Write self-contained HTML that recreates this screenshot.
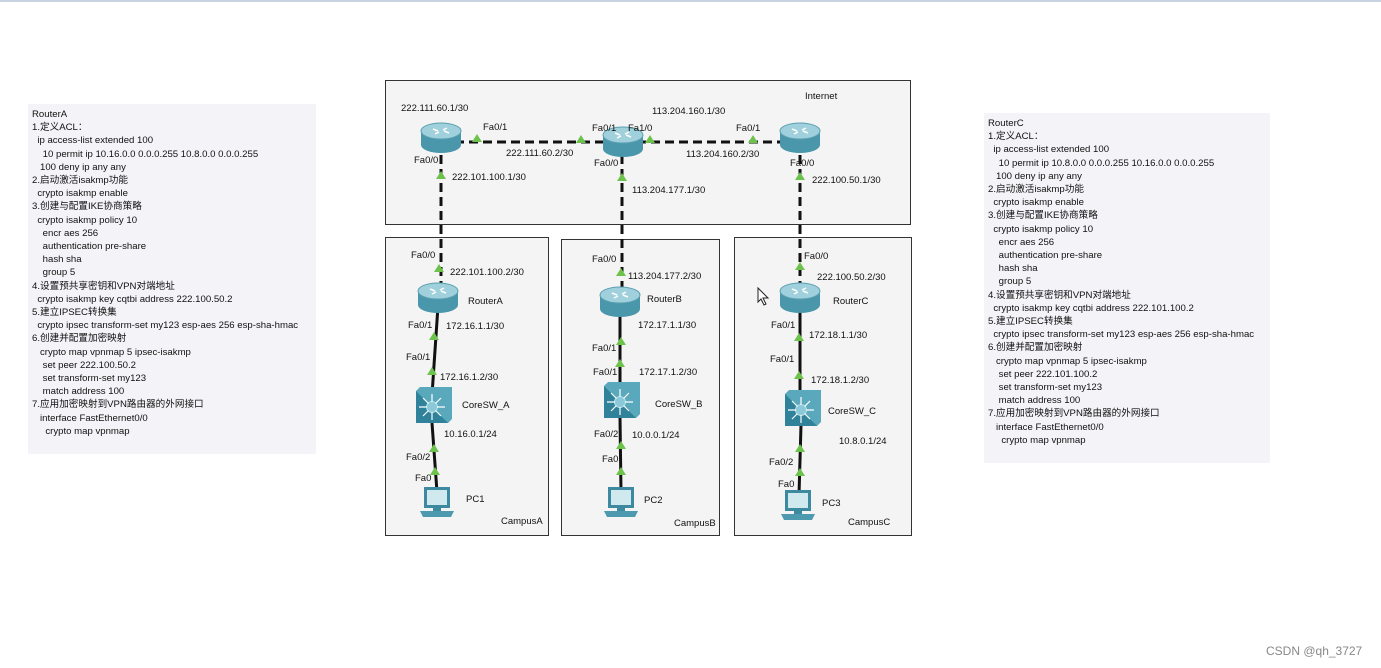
<!DOCTYPE html>
<html><head><meta charset="utf-8"><style>
body{margin:0;width:1381px;height:668px;background:#fff;overflow:hidden;position:relative;font-family:"Liberation Sans","Noto Sans CJK SC",sans-serif;}
.panel{position:absolute;background:#f4f4f8;font-size:9.6px;line-height:13.2px;color:#111;white-space:pre;padding:4px 4px;box-sizing:border-box;}
svg{position:absolute;left:0;top:0}
svg text{font-family:"Liberation Sans",sans-serif;font-size:9.5px;fill:#111}
</style></head><body>
<div style="position:absolute;left:0;top:0;width:1381px;height:2px;background:#c8d4e4"></div>
<div class="panel" style="left:28px;top:104px;width:288px;height:350px">RouterA
1.定义ACL：
  ip access-list extended 100
    10 permit ip 10.16.0.0 0.0.0.255 10.8.0.0 0.0.0.255
   100 deny ip any any
2.启动激活isakmp功能
  crypto isakmp enable
3.创建与配置IKE协商策略
  crypto isakmp policy 10
    encr aes 256
    authentication pre-share
    hash sha
    group 5
4.设置预共享密钥和VPN对端地址
  crypto isakmp key cqtbi address 222.100.50.2
5.建立IPSEC转换集
  crypto ipsec transform-set my123 esp-aes 256 esp-sha-hmac
6.创建并配置加密映射
   crypto map vpnmap 5 ipsec-isakmp
    set peer 222.100.50.2
    set transform-set my123
    match address 100
7.应用加密映射到VPN路由器的外网接口
   interface FastEthernet0/0
     crypto map vpnmap</div>
<div class="panel" style="left:984px;top:113px;width:286px;height:350px">RouterC
1.定义ACL：
  ip access-list extended 100
    10 permit ip 10.8.0.0 0.0.0.255 10.16.0.0 0.0.0.255
   100 deny ip any any
2.启动激活isakmp功能
  crypto isakmp enable
3.创建与配置IKE协商策略
  crypto isakmp policy 10
    encr aes 256
    authentication pre-share
    hash sha
    group 5
4.设置预共享密钥和VPN对端地址
  crypto isakmp key cqtbi address 222.101.100.2
5.建立IPSEC转换集
  crypto ipsec transform-set my123 esp-aes 256 esp-sha-hmac
6.创建并配置加密映射
   crypto map vpnmap 5 ipsec-isakmp
    set peer 222.101.100.2
    set transform-set my123
    match address 100
7.应用加密映射到VPN路由器的外网接口
   interface FastEthernet0/0
     crypto map vpnmap</div>
<svg width="1381" height="668">
<defs>
<g id="router"><path d="M-20,-7 v14 a20,8 0 0 0 40,0 v-14 z" fill="#4a97ab"/><ellipse cx="0" cy="-7" rx="20" ry="8" fill="#9fd0dc" stroke="#5a9fb0"/><path d="M-8,-9 l5,2 M8,-5 l-5,-2 M-6,-4 l4,-2 M6,-10 l-4,2" stroke="#fff" stroke-width="1.5"/></g>
<g id="sw"><rect x="-16" y="-16" width="32" height="32" fill="#2f8299"/><path d="M-16,-16 l4,-4 h32 v32 l-4,4" fill="#5aa8bb"/><circle r="6" fill="#a9dbe6"/><path d="M0,-13 v26 M-13,0 h26 M-9,-9 l18,18 M9,-9 l-18,18" stroke="#fff" stroke-width="1.2"/><circle r="5" fill="#8cc9d8"/></g>
<g id="pc"><rect x="-13" y="-18" width="26" height="21" fill="#3d8aa0"/><rect x="-10" y="-15" width="20" height="15" fill="#cfe9ef"/><path d="M-17,6 h34 l-3,6 h-28 z" fill="#4d9ab0"/><rect x="-4" y="3" width="8" height="3" fill="#3d8aa0"/></g>
<path id="tri" d="M-5,4 L0,-4 L5,4 Z" fill="#6cc24a"/>
</defs>
<g fill="#f4f4f4" stroke="#333" stroke-width="1">
<rect x="385.5" y="80.5" width="525" height="144"/>
<rect x="385.5" y="237.5" width="163" height="298"/>
<rect x="561.5" y="239.5" width="158" height="296"/>
<rect x="734.5" y="237.5" width="177" height="298"/>
</g>
<g stroke="#111" stroke-width="3" stroke-dasharray="9,5" fill="none">
<path d="M455,142 H785"/>
<path d="M441,155 V285"/>
<path d="M622,155 V292"/>
<path d="M800,155 V288"/>
</g>
<g stroke="#111" stroke-width="3" fill="none">
<path d="M438,306 L432,395"/><path d="M432,423 L437,492"/>
<path d="M620,310 L620,390"/><path d="M620,418 L621,492"/>
<path d="M800,306 L800,395"/><path d="M801,425 L799,495"/>
</g>
<use href="#router" x="441" y="138"/>
<use href="#router" x="623" y="142"/>
<use href="#router" x="800" y="138"/>
<use href="#router" x="438" y="298"/>
<use href="#router" x="620" y="302"/>
<use href="#router" x="800" y="298"/>
<use href="#sw" x="432" y="407"/>
<use href="#sw" x="620" y="402"/>
<use href="#sw" x="801" y="410"/>
<use href="#pc" x="437" y="505"/>
<use href="#pc" x="621" y="505"/>
<use href="#pc" x="798" y="508"/>
<g>
<use href="#tri" x="477" y="138"/><use href="#tri" x="581" y="139"/><use href="#tri" x="650" y="139"/><use href="#tri" x="753" y="139"/>
<use href="#tri" x="441" y="175"/><use href="#tri" x="622" y="177"/><use href="#tri" x="800" y="176"/>
<use href="#tri" x="439" y="268"/><use href="#tri" x="434" y="336"/><use href="#tri" x="432" y="371"/><use href="#tri" x="434" y="448"/><use href="#tri" x="435" y="471"/>
<use href="#tri" x="621" y="272"/><use href="#tri" x="621" y="341"/><use href="#tri" x="620" y="363"/><use href="#tri" x="621" y="445"/><use href="#tri" x="621" y="471"/>
<use href="#tri" x="800" y="266"/><use href="#tri" x="799" y="337"/><use href="#tri" x="799" y="375"/><use href="#tri" x="800" y="448"/><use href="#tri" x="800" y="472"/>
</g>
<text x="805" y="99">Internet</text>
<text x="401" y="111">222.111.60.1/30</text>
<text x="652" y="114">113.204.160.1/30</text>
<text x="483" y="130">Fa0/1</text>
<text x="592" y="131">Fa0/1</text><text x="628" y="131">Fa1/0</text>
<text x="736" y="131">Fa0/1</text>
<text x="506" y="156">222.111.60.2/30</text>
<text x="686" y="157">113.204.160.2/30</text>
<text x="414" y="163">Fa0/0</text><text x="594" y="166">Fa0/0</text><text x="790" y="166">Fa0/0</text>
<text x="452" y="180">222.101.100.1/30</text>
<text x="812" y="183">222.100.50.1/30</text>
<text x="632" y="193">113.204.177.1/30</text>
<text x="411" y="258">Fa0/0</text><text x="592" y="262">Fa0/0</text><text x="804" y="259">Fa0/0</text>
<text x="450" y="275">222.101.100.2/30</text>
<text x="628" y="279">113.204.177.2/30</text>
<text x="817" y="280">222.100.50.2/30</text>
<text x="468" y="304">RouterA</text><text x="647" y="302">RouterB</text><text x="833" y="304">RouterC</text>
<text x="408" y="328">Fa0/1</text><text x="446" y="329">172.16.1.1/30</text>
<text x="638" y="328">172.17.1.1/30</text>
<text x="771" y="328">Fa0/1</text><text x="809" y="338">172.18.1.1/30</text>
<text x="592" y="351">Fa0/1</text><text x="593" y="375">Fa0/1</text><text x="639" y="375">172.17.1.2/30</text>
<text x="406" y="360">Fa0/1</text><text x="440" y="380">172.16.1.2/30</text>
<text x="770" y="362">Fa0/1</text><text x="811" y="383">172.18.1.2/30</text>
<text x="462" y="408">CoreSW_A</text><text x="655" y="407">CoreSW_B</text><text x="828" y="414">CoreSW_C</text>
<text x="444" y="437">10.16.0.1/24</text><text x="594" y="437">Fa0/2</text><text x="632" y="438">10.0.0.1/24</text>
<text x="839" y="444">10.8.0.1/24</text>
<text x="406" y="460">Fa0/2</text><text x="602" y="462">Fa0</text><text x="769" y="465">Fa0/2</text>
<text x="415" y="481">Fa0</text><text x="778" y="487">Fa0</text>
<text x="466" y="502">PC1</text><text x="644" y="503">PC2</text><text x="822" y="506">PC3</text>
<text x="501" y="524">CampusA</text><text x="674" y="526">CampusB</text><text x="848" y="525">CampusC</text>
<path d="M758,288 v14 l3,-3 l3,6 l2,-1 l-3,-6 h5 z" fill="#fff" stroke="#222"/>
<text x="1266" y="655" style="font-size:12px;fill:#888">CSDN @qh_3727</text>
</svg>
</body></html>
